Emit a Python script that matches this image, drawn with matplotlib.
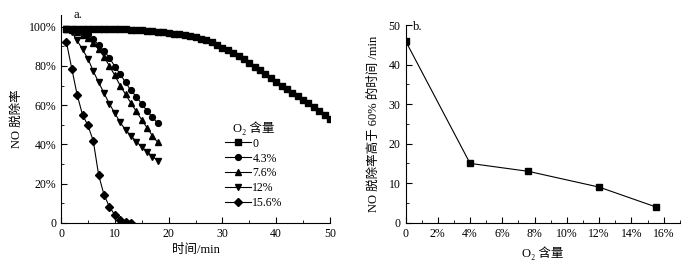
import matplotlib
matplotlib.use("Agg")
import matplotlib.pyplot as plt
from matplotlib.ticker import FuncFormatter, MultipleLocator

plt.rcParams["font.family"] = ["Liberation Serif", "Noto Sans CJK SC"]
plt.rcParams["font.size"] = 8.5

# panel a: NO removal vs time for each O2 content
t_0 = list(range(1, 51))
rate_0 = [0.99, 0.99, 0.99, 0.99, 0.99, 0.99, 0.99, 0.99, 0.99, 0.988,
          0.988, 0.987, 0.985, 0.984, 0.982, 0.98, 0.978, 0.975, 0.972, 0.969,
          0.965, 0.961, 0.957, 0.952, 0.946, 0.938, 0.93, 0.92, 0.907, 0.893,
          0.879, 0.864, 0.849, 0.833, 0.816, 0.797, 0.777, 0.757, 0.738, 0.718,
          0.70, 0.682, 0.664, 0.646, 0.629, 0.61, 0.59, 0.57, 0.55, 0.53]
t_18 = list(range(1, 19))
rate_43 = [0.99, 0.99, 0.985, 0.975, 0.962, 0.936, 0.906, 0.876, 0.842, 0.797,
           0.759, 0.716, 0.675, 0.644, 0.607, 0.571, 0.539, 0.507]
rate_76 = [0.99, 0.985, 0.975, 0.96, 0.94, 0.915, 0.885, 0.847, 0.80, 0.752,
           0.70, 0.655, 0.611, 0.568, 0.526, 0.485, 0.444, 0.41]
rate_12 = [0.99, 0.972, 0.93, 0.884, 0.837, 0.774, 0.716, 0.662, 0.606, 0.56,
           0.512, 0.474, 0.444, 0.415, 0.386, 0.364, 0.338, 0.318]
t_156 = list(range(1, 14))
rate_156 = [0.922, 0.787, 0.653, 0.551, 0.497, 0.418, 0.243, 0.143, 0.082,
            0.041, 0.017, 0.005, 0.0]

series = [
    ("0", t_0, rate_0, "s"),
    ("4.3%", t_18, rate_43, "o"),
    ("7.6%", t_18, rate_76, "^"),
    ("12%", t_18, rate_12, "v"),
    ("15.6%", t_156, rate_156, "D"),
]

# panel b: time with removal above 60%
o2 = [0.0, 0.04, 0.076, 0.12, 0.155]
time_60 = [46, 15, 13, 9, 4]

O2_LABEL = "O\u2082 含量"


def pct(v, pos):
    if abs(v) < 1e-9:
        return "0"
    return f"{v * 100:.0f}%"


def style_axis(ax):
    ax.spines["top"].set_visible(False)
    ax.spines["right"].set_visible(False)
    ax.tick_params(which="both", direction="in", labelsize=8.5)
    ax.tick_params(which="major", length=4)
    ax.tick_params(which="minor", length=2.5)


fig = plt.figure(figsize=(6.98, 2.67), dpi=100)
ax1 = fig.add_axes([0.0874, 0.165, 0.3854, 0.779])
ax2 = fig.add_axes([0.581, 0.166, 0.393, 0.740])

for label, t, r, m in series:
    ms = 4.2 if m != "D" else 3.8
    ax1.plot(t, r, color="black", lw=0.8, marker=m, ms=ms, label=label)

ax1.set_xlim(0, 50)
ax1.set_ylim(0, 1.06)
ax1.xaxis.set_major_locator(MultipleLocator(10))
ax1.xaxis.set_minor_locator(MultipleLocator(5))
ax1.yaxis.set_major_locator(MultipleLocator(0.2))
ax1.yaxis.set_minor_locator(MultipleLocator(0.1))
ax1.yaxis.set_major_formatter(FuncFormatter(pct))
style_axis(ax1)
ax1.set_xlabel("时间/min", fontsize=9, labelpad=3)
ax1.set_ylabel("NO 脱除率", fontsize=9, labelpad=4)
ax1.text(2.3, 1.062, "a.", fontsize=9, va="center")
ax1.legend(title=O2_LABEL, loc="upper left", bbox_to_anchor=(0.58, 0.53),
           frameon=False, fontsize=8.5, title_fontsize=9, handlelength=2.2,
           handletextpad=0.1, labelspacing=0.25, borderpad=0.2)

ax2.plot(o2, time_60, color="black", lw=0.8, marker="s", ms=4.2)
ax2.set_xlim(0, 0.17)
ax2.set_ylim(0, 50)
ax2.xaxis.set_major_locator(MultipleLocator(0.02))
ax2.xaxis.set_minor_locator(MultipleLocator(0.01))
ax2.xaxis.set_major_formatter(FuncFormatter(pct))
ax2.yaxis.set_major_locator(MultipleLocator(10))
ax2.yaxis.set_minor_locator(MultipleLocator(5))
style_axis(ax2)
ax2.set_xlabel(O2_LABEL, fontsize=9, labelpad=5)
ax2.set_ylabel("NO 脱除率高于 60% 的时间 /min", fontsize=9, labelpad=6)
ax2.text(0.0043, 49.5, "b.", fontsize=9, va="center")

fig.savefig("out.png", dpi=100)
